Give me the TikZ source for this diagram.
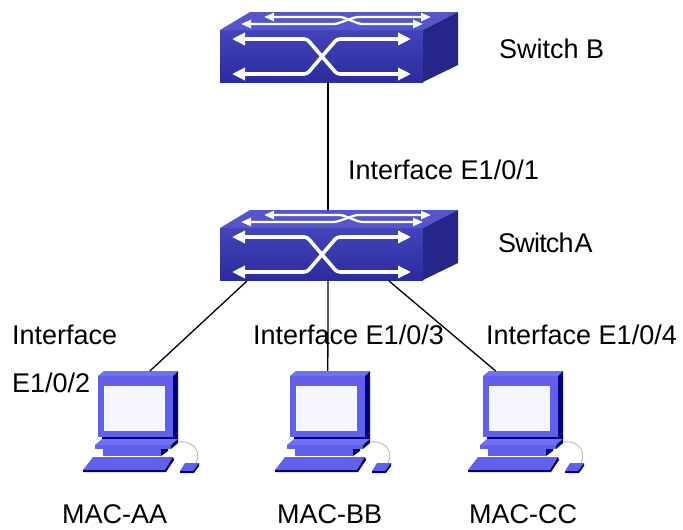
\documentclass[tikz,border=0pt]{standalone}
\usepackage{fontspec}
\setmainfont{Liberation Sans}
\newfontfamily\tightfont[LetterSpace=-3]{Liberation Sans}
\usetikzlibrary{arrows.meta,calc}

\definecolor{swfront}{RGB}{44,44,160}
\definecolor{swfrontlt}{RGB}{68,68,186}
\definecolor{swtop}{RGB}{86,86,202}
\definecolor{swside}{RGB}{38,38,138}
\definecolor{pcface}{RGB}{96,96,234}
\definecolor{pctop}{RGB}{112,112,242}
\definecolor{pcdark}{RGB}{0,0,128}

\tikzset{
	flow/.style={white,line width=3.6pt,rounded corners=3pt,
		{Triangle[width=12pt,length=13pt]}-{Triangle[width=12pt,length=13pt]}},
	flowtop/.style={white,line width=2.3pt,rounded corners=2pt,
		{Triangle[width=8pt,length=10pt]}-{Triangle[width=8pt,length=10pt]}},
	link/.style={black,line width=1.3pt},
	txt/.style={font=\fontsize{27}{32}\selectfont,inner sep=0pt,anchor=base west},
	% switch box, origin at the top left corner of the front face
	switch/.pic={
		\shade[top color=swfrontlt,bottom color=swfront] (0,0) rectangle (203,52);
		\fill[swtop] (0,0) -- (30,-18) -- (238,-18) -- (203,0) -- cycle;
		\fill[swside] (203,0) -- (238,-18) -- (238,35) -- (203,52) -- cycle;
		% traffic arrows
		\draw[flow] (12,9) -- (87,9) -- (117,44) -- (191,44);
		\draw[flow] (12,44) -- (87,44) -- (117,9) -- (191,9);
		\draw[flowtop] (44,-13) -- (122,-13) -- (140,-6) -- (203,-6);
		\draw[flowtop] (21,-6) -- (116,-6) -- (136,-13) -- (211,-13);
		% ports
		\coordinate (-top) at (108,-18);
		\coordinate (-bot) at (108,52);
		\coordinate (-p1) at (27,53);
		\coordinate (-p2) at (108,52);
		\coordinate (-p3) at (169,53);
	},
	% computer, origin at the top left corner of the monitor front
	pc/.pic={
		% monitor
		\fill[pctop] (0,0) -- (6,-5) -- (80,-5) -- (75,0) -- cycle;
		\fill[pcface] (0,0) rectangle (75,61);
		\fill[pcdark] (75,0) -- (80,-5) -- (80,56) -- (75,61) -- cycle;
		\fill[white!96!blue] (6,10) rectangle (67,55);
		% stand
		\fill[pcdark] (4,61) -- (75,61) -- (80,56) -- (80,63) -- (4,63) -- cycle;
		\fill[pctop] (-3,69) -- (4,63) -- (80,63) -- (73,69) -- cycle;
		\fill[pcface] (-3,69) rectangle (73,73);
		\fill[pcdark] (73,69) -- (80,63) -- (80,67) -- (73,73) -- cycle;
		\fill[pcface] (5,73) rectangle (63,80);
		\fill[pcdark] (63,73) -- (70,73) -- (70,75) -- (63,80) -- cycle;
		% keyboard and mouse
		\fill[pcface] (-15,94) -- (-5,81) -- (75,81) -- (67,94) -- cycle;
		\fill[pcdark] (67,94) -- (75,81) -- (76,84) -- (68,96) -- (-15,96) -- (-15,94) -- cycle;
		\fill[pcface] (82,95) -- (95,95) -- (101,87) -- (87,87) -- cycle;
		\fill[pcdark] (95,95) -- (101,87) -- (101,90) -- (96,97) -- (82,97) -- (82,95) -- cycle;
		\draw[gray!60,line width=0.8pt] (80,66) .. controls (98,64) and (103,78) .. (98,87);
		\coordinate (-tl) at (6,-5);
		\coordinate (-tr) at (80,-5);
	}
}

\begin{document}
\begin{tikzpicture}[x=1pt,y=-1pt]
	\useasboundingbox (0,0) rectangle (683,530);

	% Switches
	\pic (swB) at (220,30) {switch};
	\pic (swA) at (220,228) {switch};

	% Hosts
	\pic (pcA) at (98,376) {pc};
	\pic (pcB) at (290,376) {pc};
	\pic (pcC) at (483,376) {pc};

	% Links
	\draw[link] (swB-bot) -- (swA-top);
	\draw[link] (swA-p1) -- ($(pcA-tl)!0.62!(pcA-tr)$);
	\draw[link] (swA-p2) -- ($(pcB-tl)!0.43!(pcB-tr)$);
	\draw[link] (swA-p3) -- ($(pcC-tl)!0.09!(pcC-tr)$);

	% Labels
	\node[txt] (nameB) at (499,58) {Switch B};
	\node[txt] (nameA) at (498,252) {\tightfont Switch\hspace{0.04em}A};
	\node[txt] (ifB) at (348,179) {Interface E1/0/1};
	\node[txt] (ifA) at (12,344) {Interface};
	\node[txt] (ifA2) at (12,392) {E1/0/2};
	\node[txt] (ifBB) at (253,344) {Interface E1/0/3};
	\node[txt] (ifCC) at (486,344) {Interface E1/0/4};
	\node[txt] (macA) at (62,523) {MAC-AA};
	\node[txt] (macB) at (277,523) {MAC-BB};
	\node[txt] (macC) at (469,523) {MAC-CC};
\end{tikzpicture}
\end{document}
